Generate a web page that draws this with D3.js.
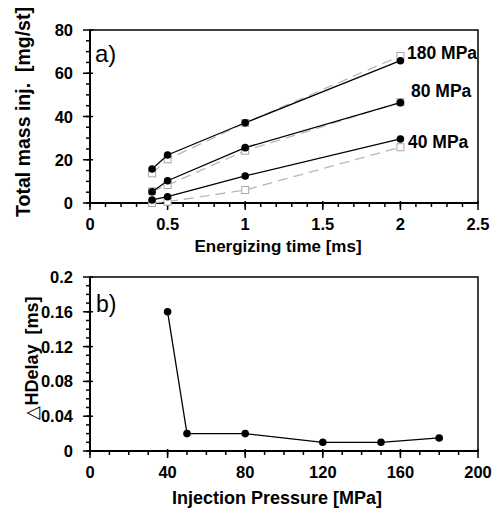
<!DOCTYPE html>
<html><head><meta charset="utf-8">
<script src="https://cdn.jsdelivr.net/npm/d3@7"></script>
<style>body{margin:0;background:#fff}svg{display:block}</style>
</head><body>
<svg id="c" width="493" height="512"></svg>
<script>
// ---- Data (panel a) ----
const energizingTimes = [0.4, 0.5, 1, 2];
const pressureLabels = ["180 MPa", "80 MPa", "40 MPa"];
const measured180 = [15.7, 22.2, 37.1, 65.8];
const measured80  = [5.2, 10.3, 25.6, 46.4];
const measured40  = [1.4, 2.9, 12.5, 29.6];
const model180 = [13.7, 20.2, 37.0, 68.0];
const model80  = [5.4, 8.3, 24.2, 46.6];
const model40  = [0.0, 0.6, 6.0, 25.8];
const yTicksA = [0, 20, 40, 60, 80];
const xTicksA = [0, 0.5, 1, 1.5, 2, 2.5];
// ---- Data (panel b) ----
const injPressure = [40, 50, 80, 120, 150, 180];
const hDelay = [0.16, 0.02, 0.02, 0.01, 0.01, 0.015];
const xTicksB = [0, 40, 80, 120, 160, 200];
const yTicksB = [0, 0.04, 0.08, 0.12, 0.16, 0.2];

const svg = d3.select("#c");
const font = "'Liberation Sans', Arial, sans-serif";
const L = 90, R = 478;

function frame(g, x, y, top, bottom, xMinor, yMinor, xFmt, yFmt) {
  g.append("rect").attr("x", L).attr("y", top).attr("width", R - L).attr("height", bottom - top)
    .attr("fill", "none").attr("stroke", "#000").attr("stroke-width", 1.5);
  g.append("line").attr("x1", L).attr("x2", R).attr("y1", bottom).attr("y2", bottom).attr("stroke", "#000").attr("stroke-width", 2);
  g.append("line").attr("x1", L).attr("x2", L).attr("y1", top).attr("y2", bottom).attr("stroke", "#000").attr("stroke-width", 2);
  g.selectAll(null).data(xMinor).join("line")
    .attr("x1", d => x(d)).attr("x2", d => x(d)).attr("y1", bottom).attr("y2", bottom + 4)
    .attr("stroke", "#000").attr("stroke-width", 1.5);
  g.selectAll(null).data(x.ticksList).join("line")
    .attr("x1", d => x(d)).attr("x2", d => x(d)).attr("y1", bottom - 2).attr("y2", bottom + 7)
    .attr("stroke", "#000").attr("stroke-width", 1.5);
  g.selectAll(null).data(yMinor).join("line")
    .attr("x1", L - 4).attr("x2", L + 1).attr("y1", d => y(d)).attr("y2", d => y(d))
    .attr("stroke", "#000").attr("stroke-width", 1.5);
  g.selectAll(null).data(y.ticksList).join("line")
    .attr("x1", L - 7).attr("x2", L + 3).attr("y1", d => y(d)).attr("y2", d => y(d))
    .attr("stroke", "#000").attr("stroke-width", 1.5);
  g.selectAll(null).data(x.ticksList).join("text")
    .attr("x", d => x(d)).attr("y", bottom + 27).attr("text-anchor", "middle")
    .attr("font-family", font).attr("font-weight", "bold").attr("font-size", 16.5)
    .text(xFmt);
  g.selectAll(null).data(y.ticksList).join("text")
    .attr("x", 73).attr("y", d => y(d) + 6).attr("text-anchor", "end")
    .attr("font-family", font).attr("font-weight", "bold").attr("font-size", 16.5)
    .text(yFmt);
}

// ---- Panel a ----
const topA = 30, botA = 203;
const xA = d3.scaleLinear().domain([0, 2.5]).range([L, R]);
const yA = d3.scaleLinear().domain([0, 80]).range([botA, topA]);
xA.ticksList = xTicksA; yA.ticksList = yTicksA;
const gA = svg.append("g");
frame(gA, xA, yA, topA, botA, d3.range(0, 25).map(i => i / 10), d3.range(0, 80, 5),
  d => d3.format("")(d), d => d);

const models = [model180, model80, model40];
const measured = [measured180, measured80, measured40];
const line = d3.line().x((d, i) => xA(energizingTimes[i])).y(d => yA(d));
models.forEach(s => {
  gA.append("path").attr("d", line(s)).attr("fill", "none").attr("stroke", "#b8b8b8")
    .attr("stroke-width", 1.3).attr("stroke-dasharray", "10,6");
  gA.selectAll(null).data(s).join("rect")
    .attr("x", (d, i) => xA(energizingTimes[i]) - 3.5).attr("y", d => yA(d) - 3.5)
    .attr("width", 7).attr("height", 7).attr("fill", "#fff").attr("stroke", "#a8a8a8").attr("stroke-width", 1);
});
measured.forEach(s => {
  gA.append("path").attr("d", line(s)).attr("fill", "none").attr("stroke", "#000").attr("stroke-width", 1.3);
  gA.selectAll(null).data(s).join("circle")
    .attr("cx", (d, i) => xA(energizingTimes[i])).attr("cy", d => yA(d)).attr("r", 3.8).attr("fill", "#000");
});
const labelPos = [[407, 59], [411, 97], [408, 148]];
pressureLabels.forEach((t, i) => {
  gA.append("text").attr("x", labelPos[i][0]).attr("y", labelPos[i][1])
    .attr("font-family", font).attr("font-weight", "bold").attr("font-size", 17.5).text(t);
});
gA.append("text").attr("x", 95).attr("y", 62).attr("font-family", font).attr("font-size", 24).text("a)");
gA.append("text").attr("x", (L + R) / 2 - 6).attr("y", 252).attr("text-anchor", "middle")
  .attr("font-family", font).attr("font-weight", "bold").attr("font-size", 17).text("Energizing time [ms]");
gA.append("text").attr("transform", "translate(30,112) rotate(-90)").attr("text-anchor", "middle")
  .attr("font-family", font).attr("font-weight", "bold").attr("font-size", 19.5)
  .style("white-space", "pre").text("Total mass inj.  [mg/st]");

// ---- Panel b ----
const topB = 277, botB = 451;
const xB = d3.scaleLinear().domain([0, 200]).range([L, R]);
const yB = d3.scaleLinear().domain([0, 0.2]).range([botB, topB]);
xB.ticksList = xTicksB; yB.ticksList = yTicksB;
const gB = svg.append("g");
frame(gB, xB, yB, topB, botB, d3.range(0, 200, 10), d3.range(0, 0.2, 0.01),
  d => d, d => d);
const lineB = d3.line().x((d, i) => xB(injPressure[i])).y(d => yB(d));
gB.append("path").attr("d", lineB(hDelay)).attr("fill", "none").attr("stroke", "#000").attr("stroke-width", 1.3);
gB.selectAll(null).data(hDelay).join("circle")
  .attr("cx", (d, i) => xB(injPressure[i])).attr("cy", d => yB(d)).attr("r", 3.8).attr("fill", "#000");
gB.append("text").attr("x", 96).attr("y", 312).attr("font-family", font).attr("font-size", 23).text("b)");
gB.append("text").attr("x", 277).attr("y", 504).attr("text-anchor", "middle")
  .attr("font-family", font).attr("font-weight", "bold").attr("font-size", 18).text("Injection Pressure [MPa]");
const yTitleB = gB.append("text").attr("transform", "translate(38,358) rotate(-90)").attr("text-anchor", "middle")
  .attr("font-family", font).attr("font-weight", "bold").attr("font-size", 18)
  .style("white-space", "pre");
yTitleB.append("tspan").attr("font-weight", "normal").text("△");
yTitleB.append("tspan").text("HDelay  [ms]");
</script>
</body></html>
